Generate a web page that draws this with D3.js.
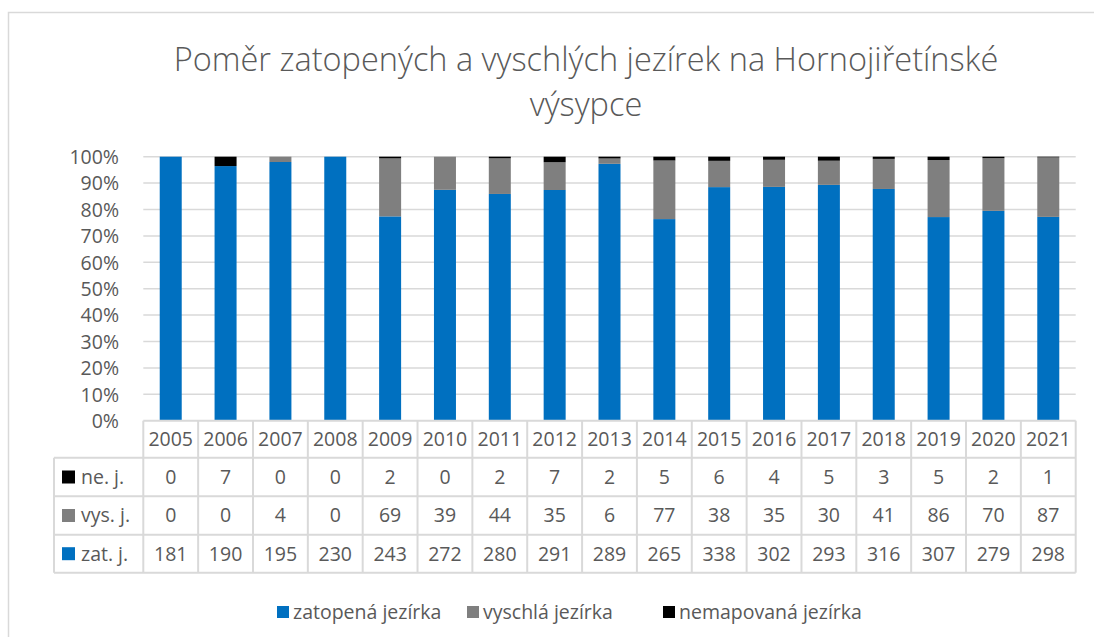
<!DOCTYPE html>
<html>
<head>
<meta charset="utf-8">
<script src="https://cdn.jsdelivr.net/npm/d3@7"></script>
<style>
  html, body { margin: 0; padding: 0; background: #fff; }
  svg { display: block; }
  text { font-family: "Open Sans", "Liberation Sans", sans-serif; fill: #595959; }
</style>
</head>
<body>
<svg id="chart" width="1094" height="637"></svg>
<script>
const years = ["2005","2006","2007","2008","2009","2010","2011","2012","2013","2014","2015","2016","2017","2018","2019","2020","2021"];
const zatopena = [181,190,195,230,243,272,280,291,289,265,338,302,293,316,307,279,298];
const vyschla = [0,0,4,0,69,39,44,35,6,77,38,35,30,41,86,70,87];
const nemapovana = [0,7,0,0,2,0,2,7,2,5,6,4,5,3,5,2,1];
const seriesNames = ["zatopená jezírka","vyschlá jezírka","nemapovaná jezírka"];
const seriesShort = ["zat. j.","vys. j.","ne. j."];
const seriesColors = ["#0070C0","#7F7F7F","#000000"];
const yTicks = [0,0.1,0.2,0.3,0.4,0.5,0.6,0.7,0.8,0.9,1.0];
const titleLines = ["Poměr zatopených a vyschlých jezírek na Hornojiřetínské","výsypce"];

const svg = d3.select("#chart");
const gridColor = "#d9d9d9";
const fs = "19.5px";

// outer chart border
svg.append("rect").attr("x", 8.5).attr("y", 12.5).attr("width", 1100).attr("height", 640)
  .attr("fill", "none").attr("stroke", gridColor).attr("stroke-width", 1.5);

// title (two separate lines)
titleLines.forEach((t, i) => {
  svg.append("text").attr("text-anchor", "middle")
    .style("font-size", "32.5px").style("font-weight", 300)
    .attr("x", 586).attr("y", 71 + i * 44.5).text(t);
});

const plotLeft = 143.3, plotRight = 1075.7, plotTop = 156.7, plotBottom = 420.7;

const x = d3.scaleBand().domain(years).range([plotLeft, plotRight]).paddingInner(0).paddingOuter(0);
const y = d3.scaleLinear().domain([0, 1]).range([plotBottom, plotTop]);

// gridlines
svg.append("g").selectAll("line").data(yTicks.slice(1)).join("line")
  .attr("x1", plotLeft).attr("x2", plotRight)
  .attr("y1", d => y(d)).attr("y2", d => y(d))
  .attr("stroke", gridColor).attr("stroke-width", 1.5);

// y axis
const yAxis = d3.axisLeft(y).tickValues(yTicks).tickFormat(d3.format(".0%")).tickSize(0).tickPadding(0);
const yg = svg.append("g").attr("transform", `translate(119,0)`).call(yAxis);
yg.select(".domain").remove();
yg.selectAll("text").style("font-size", fs).attr("fill", "#595959").attr("dy", "0.35em");

// stacked data
const rows = years.map((yr, i) => {
  const total = zatopena[i] + vyschla[i] + nemapovana[i];
  return { year: yr, s0: zatopena[i] / total, s1: vyschla[i] / total, s2: nemapovana[i] / total };
});
const stack = d3.stack().keys(["s0","s1","s2"])(rows);
const barW = 22;
svg.append("g").selectAll("g").data(stack).join("g")
  .attr("fill", (d, i) => seriesColors[i])
  .selectAll("rect").data(d => d).join("rect")
  .attr("x", d => x(d.data.year) + x.bandwidth() / 2 - barW / 2)
  .attr("width", barW)
  .attr("y", d => y(d[1]))
  .attr("height", d => Math.max(0, y(d[0]) - y(d[1])));

// data table
const tableLeft = 54;
const rowEdges = [420.7, 457.7, 496.3, 534.7, 572.7];
const tbl = svg.append("g");
tbl.append("g").selectAll("text").data(years).join("text")
  .attr("x", d => x(d) + x.bandwidth() / 2)
  .attr("y", (rowEdges[0] + rowEdges[1]) / 2)
  .attr("dy", "0.35em").attr("text-anchor", "middle").style("font-size", fs)
  .text(d => d);
const tableData = [nemapovana, vyschla, zatopena];
const tableColorIdx = [2, 1, 0];
tableData.forEach((vals, r) => {
  const yc = (rowEdges[r + 1] + rowEdges[r + 2]) / 2;
  tbl.append("g").selectAll("text").data(vals).join("text")
    .attr("x", (d, i) => x(years[i]) + x.bandwidth() / 2)
    .attr("y", yc).attr("dy", "0.35em").attr("text-anchor", "middle").style("font-size", fs)
    .text(d => d);
  tbl.append("rect").attr("x", 62).attr("y", yc - 6.5).attr("width", 13).attr("height", 13)
    .attr("fill", seriesColors[tableColorIdx[r]]);
  tbl.append("text").attr("x", 81).attr("y", yc).attr("dy", "0.35em").style("font-size", fs)
    .text(seriesShort[tableColorIdx[r]]);
});
const lineG = tbl.append("g").attr("stroke", gridColor).attr("stroke-width", 2);
lineG.append("line").attr("x1", plotLeft).attr("x2", plotRight).attr("y1", rowEdges[0]).attr("y2", rowEdges[0]);
rowEdges.slice(1).forEach(e => {
  lineG.append("line").attr("x1", tableLeft).attr("x2", plotRight).attr("y1", e).attr("y2", e);
});
const colEdges = years.map(d => x(d)).concat([plotRight]);
colEdges.forEach(e => {
  lineG.append("line").attr("x1", e).attr("x2", e).attr("y1", rowEdges[0]).attr("y2", rowEdges[4]);
});
lineG.append("line").attr("x1", tableLeft).attr("x2", tableLeft).attr("y1", rowEdges[1]).attr("y2", rowEdges[4]);

// legend
const legendItems = [
  { name: seriesNames[0], color: seriesColors[0], x: 277 },
  { name: seriesNames[1], color: seriesColors[1], x: 467 },
  { name: seriesNames[2], color: seriesColors[2], x: 663 }
];
const lg = svg.append("g");
legendItems.forEach(it => {
  lg.append("rect").attr("x", it.x).attr("y", 606).attr("width", 12).attr("height", 12).attr("fill", it.color);
  lg.append("text").attr("x", it.x + 16).attr("y", 612).attr("dy", "0.35em").style("font-size", fs).text(it.name);
});
</script>
</body>
</html>
